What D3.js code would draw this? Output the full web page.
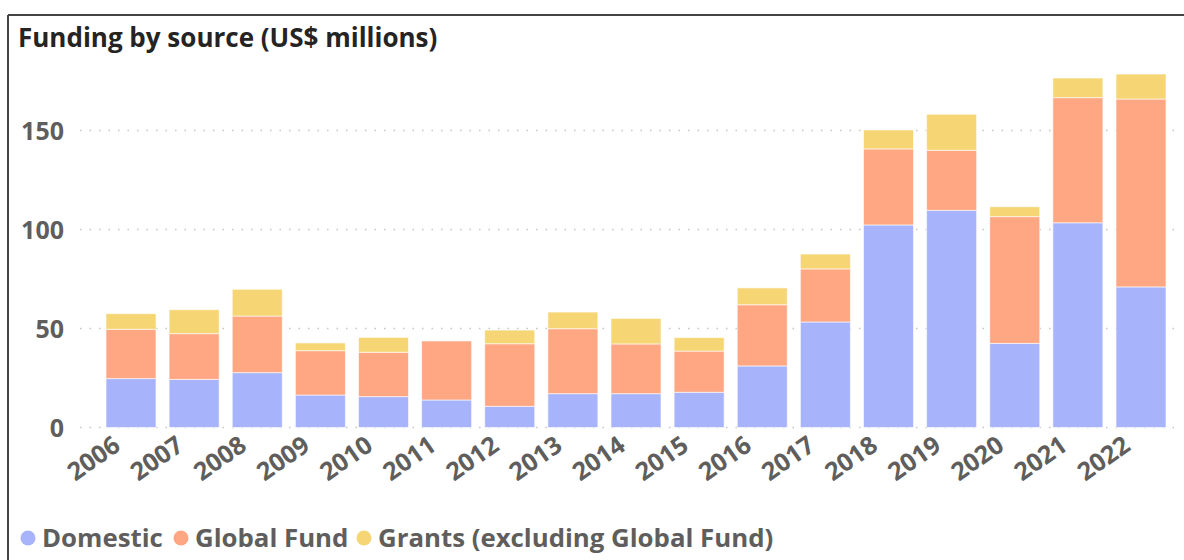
<!DOCTYPE html>
<html>
<head>
<meta charset="utf-8">
<script src="https://cdn.jsdelivr.net/npm/d3@7"></script>
<style>
  html, body { margin: 0; padding: 0; background: #fff; }
  svg { display: block; font-family: "Open Sans", "Noto Sans", sans-serif; }
</style>
</head>
<body>
<svg id="chart" width="1184" height="560"></svg>
<script>
// Funding by source, US$ millions
const years = ["2006","2007","2008","2009","2010","2011","2012","2013","2014","2015","2016","2017","2018","2019","2020","2021","2022"];
const domestic   = [24.7, 24.3, 27.7, 16.4, 15.6, 13.9, 10.7, 17.1, 17.1, 17.8, 31.1, 53.3, 102.3, 109.7, 42.5, 103.4, 71.0];
const globalFund = [24.9, 23.1, 28.6, 22.4, 22.4, 29.8, 31.6, 32.8, 25.1, 20.8, 30.9, 26.8, 38.4, 30.3, 64.0, 63.2, 94.9];
const grants     = [7.9, 12.1, 13.5, 3.9, 7.5, 0.0, 6.9, 8.4, 12.9, 6.8, 8.5, 7.5, 9.6, 18.2, 5.0, 9.9, 12.6];
const seriesNames = ["Domestic", "Global Fund", "Grants (excluding Global Fund)"];
const seriesColors = ["#A7B3FA", "#FFA682", "#F5D574"];
const yTicks = [0, 50, 100, 150];

const svg = d3.select("#chart");

// panel frame (top and left edges)
svg.append("line").attr("x1", 8).attr("x2", 1184).attr("y1", 15).attr("y2", 15)
  .attr("stroke", "#444").attr("stroke-width", 2);
svg.append("line").attr("x1", 8).attr("x2", 8).attr("y1", 15).attr("y2", 560)
  .attr("stroke", "#444").attr("stroke-width", 2);

svg.append("text").attr("x", 18).attr("y", 47)
  .attr("font-size", 26).attr("font-weight", 700).attr("fill", "#252423")
  .text("Funding by source (US$ millions)");

const x = d3.scaleBand().domain(years).range([99.69, 1172.31])
  .paddingInner(0.2079).paddingOuter(0.1);
const y = d3.scaleLinear().domain([0, 150]).range([427.5, 130.5]);

// dotted gridlines
svg.append("g").selectAll("line").data(yTicks).join("line")
  .attr("x1", 80).attr("x2", 1176)
  .attr("y1", d => y(d)).attr("y2", d => y(d))
  .attr("stroke", "#c8c6c4").attr("stroke-width", 1.5)
  .attr("stroke-dasharray", "1.5,8");

// y axis labels
const yAxis = d3.axisLeft(y).tickValues(yTicks).tickSize(0).tickPadding(0);
const yg = svg.append("g").attr("transform", "translate(64,0)").call(yAxis);
yg.select(".domain").remove();
yg.selectAll("text").attr("font-size", 25).attr("font-weight", 700)
  .attr("fill", "#605E5C").attr("font-family", "Open Sans, Noto Sans, sans-serif")
  .attr("dy", "0.34em");

// stacked bars
const rows = years.map((yr, i) => ({ year: yr, s0: domestic[i], s1: globalFund[i], s2: grants[i] }));
const stack = d3.stack().keys(["s0", "s1", "s2"])(rows);
svg.append("g").selectAll("g").data(stack).join("g")
  .attr("fill", (d, i) => seriesColors[i])
  .selectAll("rect").data(d => d.filter(p => p[1] - p[0] > 0)).join("rect")
  .attr("x", d => x(d.data.year))
  .attr("width", x.bandwidth())
  .attr("y", d => y(d[1]))
  .attr("height", d => y(d[0]) - y(d[1]))
  .attr("stroke", "#ffffff").attr("stroke-opacity", 0.6).attr("stroke-width", 1);

// x axis labels, rotated
const xAxis = d3.axisBottom(x).tickSize(0).tickPadding(0);
const xg = svg.append("g").call(xAxis);
xg.select(".domain").remove();
xg.selectAll(".tick").attr("transform", d => `translate(${x(d) + x.bandwidth() / 2 - 9},449)`);
xg.selectAll("text").attr("font-size", 25).attr("font-weight", 700)
  .attr("fill", "#605E5C").attr("font-family", "Open Sans, Noto Sans, sans-serif")
  .attr("text-anchor", "end").attr("dy", 0).attr("y", 0)
  .attr("transform", "rotate(-35)");

// legend
const legendX = [28, 181, 364];
const lg = svg.append("g").selectAll("g").data(seriesNames).join("g")
  .attr("transform", (d, i) => `translate(${legendX[i]},538)`);
lg.append("circle").attr("r", 7.5).attr("fill", (d, i) => seriesColors[i]);
lg.append("text").attr("x", 14).attr("dy", "0.35em")
  .attr("font-size", 25.8).attr("font-weight", 700).attr("fill", "#605E5C")
  .text(d => d);
</script>
</body>
</html>
